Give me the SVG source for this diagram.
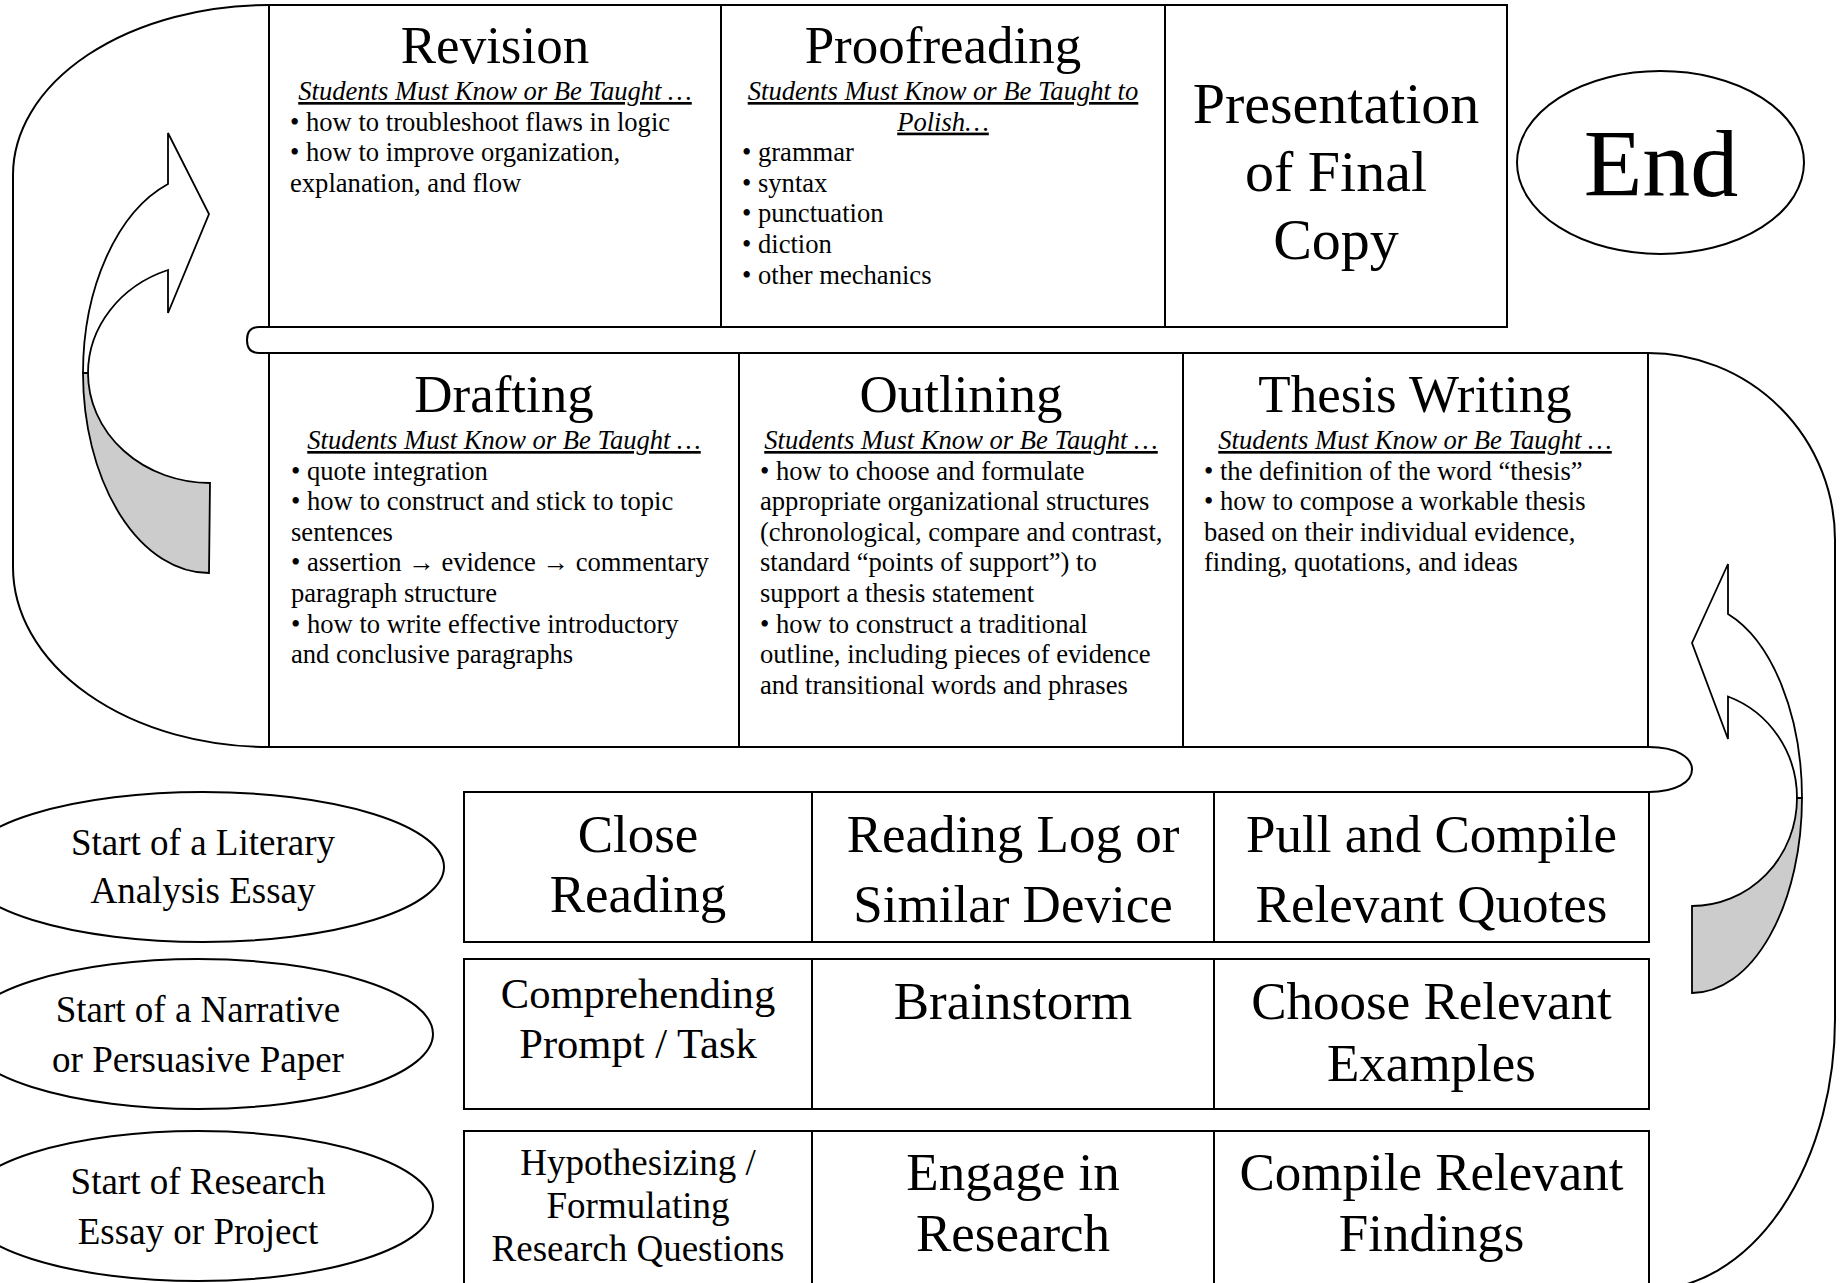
<svg xmlns="http://www.w3.org/2000/svg" width="1847" height="1283" viewBox="0 0 1847 1283">
<style>
.box{fill:#fff;stroke:#000;stroke-width:2}
.ell{fill:#fff;stroke:#000;stroke-width:2}
.con{fill:none;stroke:#000;stroke-width:2}
.tab{fill:#fff;stroke:#000;stroke-width:2}
.arw{fill:#fff;stroke:#000;stroke-width:1.8;stroke-linejoin:miter}
.arg{fill:#cccccc;stroke:#000;stroke-width:1.8}
text{font-family:"Liberation Serif","Times New Roman",serif;fill:#000}
.h1{font-size:53px;text-anchor:middle}
.h2{font-size:58px;text-anchor:middle}
.h3{font-size:42.6px;text-anchor:middle}
.h4{font-size:37px;text-anchor:middle}
.sub{font-size:26.6px;font-style:italic;text-decoration:underline;text-anchor:middle}
.b{font-size:26.6px}
</style>
<rect width="1847" height="1283" fill="#fff"/>
<g id="connectors">
<path class="con" d="M 269,5 A 256,170 0 0 0 13,175 L 13,567 A 256,180 0 0 0 269,747"/>
<path class="con" d="M 1648,353 A 187,187 0 0 1 1835,540 L 1835,1013 A 187,272 0 0 1 1648,1290"/>
<path class="tab" d="M 272,327 L 259,327 Q 247,327 247,340 Q 247,353 259,353 L 272,353"/>
<path class="tab" d="M 1646,747 L 1649,747 C 1676,747 1692,757 1692,769.5 C 1692,782 1676,792 1649,792 L 1646,792"/>
<path class="arg" d="M 88,373 A 122,110 0 0 0 210,483 L 209,573 A 126,200 0 0 1 83,373 Z"/>
<path class="arw" d="M 168,184 A 126,200 0 0 0 83,373 L 88,373 A 122,110 0 0 1 168,270 L 168,313 L 209,214 L 168,133 Z"/>
<path class="arg" d="M 1797,798 A 105,108 0 0 1 1692,906 L 1692,993 A 110,195 0 0 0 1802,798 Z"/>
<path class="arw" d="M 1728,614 A 110,195 0 0 1 1802,798 L 1797,798 A 105,108 0 0 0 1728,696.5 L 1728,739 L 1692,643 L 1728,564 Z"/>
</g>
<g id="revision">
<rect class="box" x="269" y="5" width="452" height="322"/>
<text class="h1" x="495" y="63">Revision</text>
<text class="sub" x="495" y="100">Students Must Know or Be Taught …</text>
<text class="b" x="290" y="130.6">• how to troubleshoot flaws in logic</text>
<text class="b" x="290" y="161.2">• how to improve organization,</text>
<text class="b" x="290" y="191.8">explanation, and flow</text>
</g>
<g id="proofreading">
<rect class="box" x="721" y="5" width="444" height="322"/>
<text class="h1" x="943" y="63">Proofreading</text>
<text class="sub" x="943" y="100">Students Must Know or Be Taught to</text>
<text class="sub" x="943" y="130.6">Polish…</text>
<text class="b" x="742" y="161.2">• grammar</text>
<text class="b" x="742" y="191.8">• syntax</text>
<text class="b" x="742" y="222.4">• punctuation</text>
<text class="b" x="742" y="253">• diction</text>
<text class="b" x="742" y="283.6">• other mechanics</text>
</g>
<g id="presentation">
<rect class="box" x="1165" y="5" width="342" height="322"/>
<text class="h2" x="1336" y="123">Presentation</text>
<text class="h2" x="1336" y="191">of Final</text>
<text class="h2" x="1336" y="259">Copy</text>
</g>
<g id="end">
<ellipse class="ell" cx="1660.5" cy="162.5" rx="143.5" ry="91.5"/>
<text x="1661" y="196" style="font-size:96px;text-anchor:middle">End</text>
</g>
<g id="drafting">
<rect class="box" x="269" y="353" width="470" height="394"/>
<text class="h1" x="504" y="412">Drafting</text>
<text class="sub" x="504" y="449">Students Must Know or Be Taught …</text>
<text class="b" x="291" y="479.6">• quote integration</text>
<text class="b" x="291" y="510.2">• how to construct and stick to topic</text>
<text class="b" x="291" y="540.8">sentences</text>
<text class="b" x="291" y="571.4">• assertion → evidence → commentary</text>
<text class="b" x="291" y="602">paragraph structure</text>
<text class="b" x="291" y="632.6">• how to write effective introductory</text>
<text class="b" x="291" y="663.2">and conclusive paragraphs</text>
</g>
<g id="outlining">
<rect class="box" x="739" y="353" width="444" height="394"/>
<text class="h1" x="961" y="412">Outlining</text>
<text class="sub" x="961" y="449">Students Must Know or Be Taught …</text>
<text class="b" x="760" y="479.6">• how to choose and formulate</text>
<text class="b" x="760" y="510.2">appropriate organizational structures</text>
<text class="b" x="760" y="540.8">(chronological, compare and contrast,</text>
<text class="b" x="760" y="571.4">standard “points of support”) to</text>
<text class="b" x="760" y="602">support a thesis statement</text>
<text class="b" x="760" y="632.6">• how to construct a traditional</text>
<text class="b" x="760" y="663.2">outline, including pieces of evidence</text>
<text class="b" x="760" y="693.8">and transitional words and phrases</text>
</g>
<g id="thesis">
<rect class="box" x="1183" y="353" width="465" height="394"/>
<text class="h1" x="1415" y="412">Thesis Writing</text>
<text class="sub" x="1415" y="449">Students Must Know or Be Taught …</text>
<text class="b" x="1204" y="479.6">• the definition of the word “thesis”</text>
<text class="b" x="1204" y="510.2">• how to compose a workable thesis</text>
<text class="b" x="1204" y="540.8">based on their individual evidence,</text>
<text class="b" x="1204" y="571.4">finding, quotations, and ideas</text>
</g>
<g id="start-literary">
<ellipse class="ell" cx="203" cy="867" rx="241" ry="75"/>
<text class="h4" x="203" y="855">Start of a Literary</text>
<text class="h4" x="203" y="903">Analysis Essay</text>
</g>
<g id="start-narrative">
<ellipse class="ell" cx="198" cy="1034" rx="235" ry="75"/>
<text class="h4" x="198" y="1022">Start of a Narrative</text>
<text class="h4" x="198" y="1072">or Persuasive Paper</text>
</g>
<g id="start-research">
<ellipse class="ell" cx="198" cy="1206" rx="235" ry="75"/>
<text class="h4" x="198" y="1194">Start of Research</text>
<text class="h4" x="198" y="1244">Essay or Project</text>
</g>
<g id="close-reading">
<rect class="box" x="464" y="792" width="348" height="150"/>
<text class="h1" x="638" y="852">Close</text>
<text class="h1" x="638" y="912">Reading</text>
</g>
<g id="reading-log">
<rect class="box" x="812" y="792" width="402" height="150"/>
<text class="h1" x="1013" y="852">Reading Log or</text>
<text class="h1" x="1013" y="922">Similar Device</text>
</g>
<g id="pull-quotes">
<rect class="box" x="1214" y="792" width="435" height="150"/>
<text class="h1" x="1431.5" y="852">Pull and Compile</text>
<text class="h1" x="1431.5" y="922">Relevant Quotes</text>
</g>
<g id="comprehending">
<rect class="box" x="464" y="959" width="348" height="150"/>
<text class="h3" x="638" y="1008">Comprehending</text>
<text class="h3" x="638" y="1058">Prompt / Task</text>
</g>
<g id="brainstorm">
<rect class="box" x="812" y="959" width="402" height="150"/>
<text class="h1" x="1013" y="1019">Brainstorm</text>
</g>
<g id="choose-examples">
<rect class="box" x="1214" y="959" width="435" height="150"/>
<text class="h1" x="1431.5" y="1019">Choose Relevant</text>
<text class="h1" x="1431.5" y="1081">Examples</text>
</g>
<g id="hypothesizing">
<rect class="box" x="464" y="1131" width="348" height="170"/>
<text class="h4" x="638" y="1175">Hypothesizing /</text>
<text class="h4" x="638" y="1218">Formulating</text>
<text class="h4" x="638" y="1261">Research Questions</text>
</g>
<g id="engage-research">
<rect class="box" x="812" y="1131" width="402" height="170"/>
<text class="h1" x="1013" y="1190">Engage in</text>
<text class="h1" x="1013" y="1251">Research</text>
</g>
<g id="compile-findings">
<rect class="box" x="1214" y="1131" width="435" height="170"/>
<text class="h1" x="1431.5" y="1190">Compile Relevant</text>
<text class="h1" x="1431.5" y="1251">Findings</text>
</g>
</svg>
